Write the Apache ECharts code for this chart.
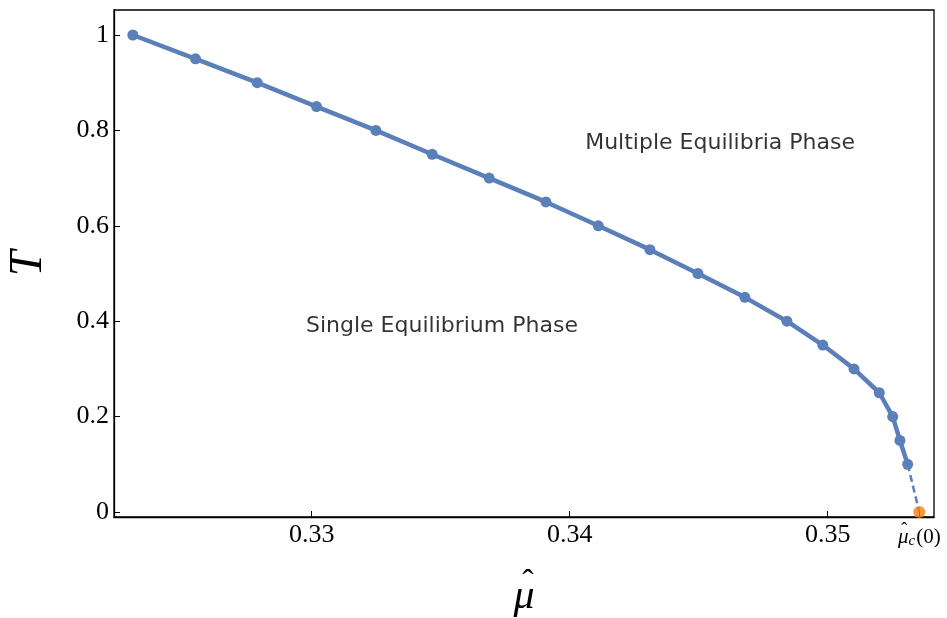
<!DOCTYPE html>
<html>
<head>
<meta charset="utf-8">
<script src="https://cdn.jsdelivr.net/npm/echarts@6/dist/echarts.min.js"></script>
<style>
  html, body { margin: 0; padding: 0; background: #fff; }
  #main { width: 947px; height: 618px; }
</style>
</head>
<body>
<div id="main"></div>
<script>
// transition curve T(mu_hat)
const muValues = [0.32307, 0.32550, 0.32789, 0.33019, 0.33249, 0.33467, 0.33688, 0.33908,
  0.34111, 0.34311, 0.34497, 0.34679, 0.34842, 0.34981, 0.35102, 0.35200, 0.35252, 0.35280, 0.35310];
const tValues = [1, 0.95, 0.9, 0.85, 0.8, 0.75, 0.7, 0.65, 0.6, 0.55, 0.5, 0.45, 0.4, 0.35,
  0.3, 0.25, 0.2, 0.15, 0.1];
const muCritical = 0.35355;   // mu_c(0)
const xTicks = [0.33, 0.34, 0.35, muCritical];
const yTicks = [0, 0.2, 0.4, 0.6, 0.8, 1];
const phaseLabels = ['Multiple Equilibria Phase', 'Single Equilibrium Phase'];
const phaseMu = [0.34583, 0.33505];
const phaseT = [0.774, 0.39];

const blue = '#5b7fb8';
const orange = '#f5800c';
const serif = '"Liberation Serif", "DejaVu Serif", serif';

const curve = muValues.map((m, i) => [m, tValues[i]]);
const lastPt = curve[curve.length - 1];

const chart = echarts.init(document.getElementById('main'));

chart.setOption({
  animation: false,
  backgroundColor: '#fff',
  grid: {
    left: 114, right: 13, top: 10, bottom: 101,
    containLabel: false, outerBoundsMode: 'none',
    show: true, borderColor: '#000', borderWidth: 1.3
  },
  xAxis: {
    type: 'value',
    min: 0.32234,
    max: 0.35412,
    name: '{h|ˆ}\n{m|μ}',
    nameLocation: 'middle',
    nameGap: 66,
    nameTextStyle: {
      rich: {
        h: { fontFamily: serif, fontSize: 34, lineHeight: 2, color: '#000', padding: [0, 0, 0, 8] },
        m: { fontFamily: serif, fontStyle: 'italic', fontSize: 42, lineHeight: 24, color: '#000' }
      }
    },
    splitLine: { show: false },
    axisLine: { onZero: false, lineStyle: { color: '#000', width: 1.3 } },
    axisTick: { inside: true, length: 6, customValues: xTicks, lineStyle: { color: '#000' } },
    axisLabel: {
      customValues: xTicks,
      margin: 5,
      fontFamily: serif,
      fontSize: 26,
      color: '#000',
      formatter: v => Math.abs(v - muCritical) < 1e-9 ? '{sp| }\n{h|ˆ}\n{m|μ}{s|c}{n|(0)}' : v.toFixed(2),
      rich: {
        sp: { fontSize: 8, lineHeight: 8 },
        h: { fontFamily: serif, fontSize: 18, lineHeight: 1, color: '#000', padding: [0, 30, 0, 0] },
        m: { fontFamily: serif, fontStyle: 'italic', fontSize: 21, lineHeight: 12, color: '#000' },
        s: { fontFamily: serif, fontStyle: 'italic', fontSize: 15, lineHeight: 12, color: '#000', padding: [8, 1, 0, 0] },
        n: { fontFamily: serif, fontSize: 21, lineHeight: 12, color: '#000' }
      }
    }
  },
  yAxis: {
    type: 'value',
    min: -0.0105,
    max: 1.0524,
    name: 'T',
    nameLocation: 'middle',
    nameGap: 62,
    nameRotate: 90,
    nameTextStyle: { fontFamily: serif, fontStyle: 'italic', fontSize: 46, color: '#000' },
    splitLine: { show: false },
    axisLine: { show: true, onZero: false, lineStyle: { color: '#000', width: 1.3 } },
    axisTick: { inside: true, length: 6, customValues: yTicks, lineStyle: { color: '#000' } },
    axisLabel: {
      customValues: yTicks,
      margin: 5,
      fontFamily: serif,
      fontSize: 26,
      color: '#000',
      formatter: v => String(+v.toFixed(1))
    }
  },
  series: [
    {
      type: 'line',
      data: [lastPt, [muCritical, 0]],
      symbol: 'none',
      lineStyle: { color: blue, width: 2.5, type: [7, 4] },
      z: 1
    },
    {
      type: 'line',
      data: curve,
      symbol: 'circle',
      symbolSize: 11,
      itemStyle: { color: blue },
      lineStyle: { color: blue, width: 4.5 },
      z: 2
    },
    {
      type: 'scatter',
      data: [[muCritical, 0]],
      symbolSize: 12,
      itemStyle: { color: orange },
      clip: false,
      z: 3
    },
    {
      type: 'scatter',
      data: phaseMu.map((m, i) => [m, phaseT[i], phaseLabels[i]]),
      symbolSize: 0,
      label: {
        show: true,
        position: 'inside',
        formatter: p => p.data[2],
        fontFamily: '"DejaVu Sans", sans-serif',
        fontSize: 22,
        color: '#000'
      },
      z: 4
    }
  ]
});
</script>
</body>
</html>
